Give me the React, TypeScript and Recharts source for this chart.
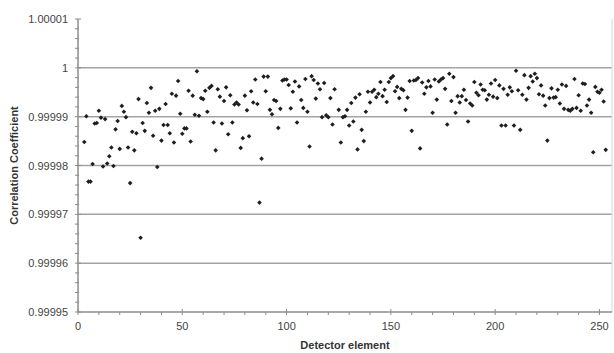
import { ScatterChart, Scatter, XAxis, YAxis, ReferenceLine } from 'recharts';

// correlation coefficient per detector element in runs of consecutive elements
const elementsA_start = 3;
const coefficientsA = [
  0.9999848, 0.9999901, 0.9999767, 0.9999767, 0.9999803, 0.9999886, 0.9999887, 0.9999912, 0.9999898, 0.9999798,
  0.9999895, 0.9999804, 0.9999819, 0.9999837, 0.9999799, 0.9999874, 0.9999891, 0.9999834, 0.9999922, 0.999991,
  0.9999899, 0.9999837, 0.9999764, 0.9999869, 0.9999831, 0.9999866, 0.9999936, 0.9999652, 0.9999887, 0.9999871,
  0.9999928, 0.9999908, 0.9999959, 0.9999861, 0.9999912, 0.9999797, 0.9999916, 0.9999851, 0.9999883, 0.9999926,
  0.9999883, 0.9999866, 0.9999947, 0.9999847, 0.9999943, 0.9999973, 0.9999906, 0.9999865, 0.9999876, 0.9999876,
  0.9999953, 0.9999849, 0.9999943, 0.9999904, 0.9999993, 0.9999902, 0.9999938, 0.9999936, 0.9999953, 0.999991,
];

const elementsB_start = 63;
const coefficientsB = [
  0.9999959, 0.9999963, 0.9999888, 0.9999831, 0.9999956, 0.9999941, 0.9999886, 0.9999932, 0.999996, 0.9999864,
  0.9999944, 0.9999888, 0.9999925, 0.9999929, 0.9999925, 0.9999836, 0.9999856, 0.9999943, 0.9999913, 0.999986,
  0.9999952, 0.9999929, 0.9999976, 0.9999926, 0.9999724, 0.9999814, 0.9999982, 0.9999952, 0.9999982, 0.9999914,
  0.9999905, 0.9999934, 0.9999932, 0.9999877, 0.9999916, 0.9999974, 0.9999976, 0.9999976, 0.9999965, 0.9999917,
  0.9999951, 0.9999972, 0.9999888, 0.9999962, 0.9999934, 0.9999918, 0.9999977, 0.999991, 0.9999839, 0.9999983,
  0.9999975, 0.9999937, 0.9999968, 0.9999956, 0.9999899, 0.9999969, 0.9999903, 0.9999899, 0.9999938, 0.9999884,
  0.9999956,
];

const elementsC_start = 125;
const coefficientsC = [
  0.9999914, 0.9999847, 0.9999899, 0.9999901, 0.9999914, 0.9999882, 0.9999928, 0.999989, 0.9999939, 0.9999833,
  0.9999946, 0.9999873, 0.999985, 0.999991, 0.9999951, 0.9999929, 0.9999951, 0.9999955, 0.999994, 0.9999947,
  0.9999971, 0.9999942, 0.9999955, 0.999993, 0.9999971, 0.9999979, 0.9999983, 0.9999952, 0.9999961, 0.9999938,
  0.9999957, 0.9999954, 0.9999914, 0.9999939, 0.9999973, 0.9999871, 0.9999974, 0.9999975, 0.9999979, 0.9999835,
  0.999997, 0.9999947, 0.999996, 0.9999973, 0.9999962, 0.9999908, 0.9999976, 0.9999935, 0.9999972, 0.9999976,
  0.9999979, 0.9999957, 0.9999884, 0.9999988, 0.9999932, 0.9999981, 0.9999908, 0.9999942, 0.9999929, 0.9999942,
  0.9999955, 0.9999934, 0.999989, 0.9999927, 0.9999923,
];

const elementsD_start = 190;
const coefficientsD = [
  0.9999971, 0.9999949, 0.9999944, 0.9999966, 0.9999955, 0.9999954, 0.9999935, 0.9999945, 0.9999968, 0.9999941,
  0.9999975, 0.9999938, 0.9999964, 0.9999882, 0.9999957, 0.9999882, 0.9999945, 0.999996, 0.9999952, 0.9999882,
  0.9999994, 0.9999954, 0.9999873, 0.9999945, 0.9999985, 0.9999935, 0.9999959, 0.9999983, 0.9999972, 0.9999988,
  0.9999979, 0.9999946, 0.9999964, 0.9999943, 0.9999923, 0.9999851, 0.9999938, 0.9999958, 0.9999939, 0.999994,
  0.9999955, 0.9999927, 0.9999966, 0.9999916, 0.9999963, 0.9999914, 0.9999912, 0.9999916, 0.9999977, 0.9999918,
  0.9999944, 0.9999912, 0.9999968, 0.9999967, 0.9999923, 0.9999935, 0.9999908, 0.9999827, 0.9999961, 0.9999951,
  0.9999949, 0.9999955, 0.9999931, 0.9999832,
];

const xMajorTicks = [0, 50, 100, 150, 200, 250];
const yMajorTicks = [0.99995, 0.99996, 0.99997, 0.99998, 0.99999, 1, 1.00001];
const yTickLabels = ['0.99995', '0.99996', '0.99997', '0.99998', '0.99999', '1', '1.00001'];
const gridValues = [0.99996, 0.99997, 0.99998, 0.99999, 1];

const FONT = '"Liberation Sans", Arial, sans-serif';
const AXIS = '#8c8c8c';

const runs = [
  { start: elementsA_start, values: coefficientsA },
  { start: elementsB_start, values: coefficientsB },
  { start: elementsC_start, values: coefficientsC },
  { start: elementsD_start, values: coefficientsD },
];
const data = runs.flatMap((r) => r.values.map((y, i) => ({ x: r.start + i, y })));

// minor ticks: every 10 on x, five steps per major interval on y
const xTicks: number[] = [];
for (let v = 0; v <= 250; v += 10) xTicks.push(v);
const yTicks: number[] = [];
yMajorTicks.forEach((m, i) => {
  yTicks.push(m);
  if (i < yMajorTicks.length - 1) {
    const step = (yMajorTicks[i + 1] - m) / 5;
    for (let k = 1; k < 5; k++) yTicks.push(m + step * k);
  }
});

function YTick({ x, y, payload }: any) {
  const idx = yMajorTicks.findIndex((m) => Math.abs(m - payload.value) < 1e-9);
  const major = idx >= 0;
  return (
    <g>
      <line x1={x - 3} x2={major ? x + 3 : x + 1} y1={y} y2={y} stroke={AXIS} strokeWidth={1} />
      {major && (
        <text x={x - 10} y={y} dy={4} textAnchor="end" fontSize={11} fill="#444" fontFamily={FONT}>
          {yTickLabels[idx]}
        </text>
      )}
    </g>
  );
}

function XTick({ x, y, payload }: any) {
  const major = xMajorTicks.includes(payload.value);
  return (
    <g>
      <line x1={x} x2={x} y1={major ? y - 3 : y} y2={y + 3} stroke={AXIS} strokeWidth={1} />
      {major && (
        <text x={x} y={y + 18} textAnchor="middle" fontSize={11} fill="#444" fontFamily={FONT}>
          {payload.value}
        </text>
      )}
    </g>
  );
}

function Diamond({ cx, cy }: any) {
  const r = 2.3;
  return <path d={`M${cx},${cy - r}L${cx + r},${cy}L${cx},${cy + r}L${cx - r},${cy}Z`} fill="#1e1e1e" />;
}

function YTitle({ viewBox }: any) {
  const cx = 14;
  const cy = viewBox.y + viewBox.height / 2;
  return (
    <text x={cx} y={cy} transform={`rotate(-90 ${cx} ${cy})`} textAnchor="middle" dy={4}
      fontSize={11} fontWeight="bold" fill="#333" fontFamily={FONT}>
      Correlation Coefficient
    </text>
  );
}

function XTitle({ viewBox }: any) {
  return (
    <text x={viewBox.x + viewBox.width / 2} y={349} textAnchor="middle"
      fontSize={11} fontWeight="bold" fill="#333" fontFamily={FONT}>
      Detector element
    </text>
  );
}

export default function App() {
  return (
    <div style={{ position: 'absolute', left: 0, top: 0, width: 614, height: 353, background: '#fff', fontFamily: FONT }}>
      <ScatterChart width={614} height={353} margin={{ top: 19, right: 2, bottom: 0, left: 0 }}>
        {gridValues.map((v) => (
          <ReferenceLine key={v} y={v} stroke="#a3a3a3" strokeWidth={1.5} />
        ))}
        <ReferenceLine x={256} stroke="#d6d6d6" strokeWidth={1} />
        <XAxis
          type="number"
          dataKey="x"
          domain={[0, 256]}
          ticks={xTicks}
          interval={0}
          tickSize={0}
          tickMargin={0}
          tickLine={false}
          tick={<XTick />}
          height={41}
          axisLine={{ stroke: AXIS, strokeWidth: 1.5 }}
          label={{ content: XTitle }}
        />
        <YAxis
          type="number"
          dataKey="y"
          domain={[0.99995, 1.00001]}
          ticks={yTicks}
          interval={0}
          tickSize={0}
          tickMargin={0}
          tickLine={false}
          tick={<YTick />}
          width={78}
          axisLine={{ stroke: AXIS, strokeWidth: 1.5 }}
          label={{ content: YTitle }}
          allowDataOverflow
        />
        <Scatter data={data} shape={<Diamond />} isAnimationActive={false} />
      </ScatterChart>
    </div>
  );
}
